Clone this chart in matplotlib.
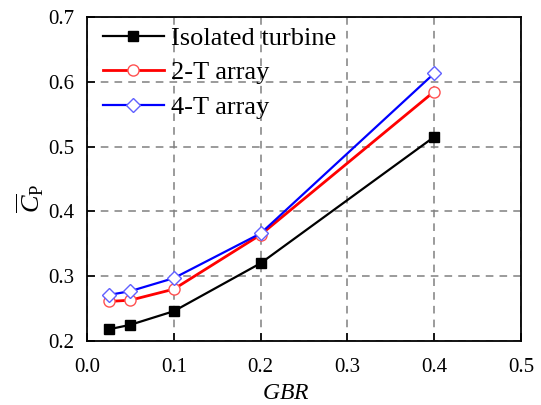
import numpy as np
import matplotlib.pyplot as plt

plt.rcParams['font.family'] = ['Liberation Serif', 'DejaVu Serif']
plt.rcParams['mathtext.fontset'] = 'custom'
plt.rcParams['mathtext.rm'] = 'Liberation Serif'
plt.rcParams['mathtext.it'] = 'Liberation Serif:italic'

# data
gbr = [0.025, 0.05, 0.1, 0.2, 0.4]
cp_iso = [0.218, 0.225, 0.246, 0.320, 0.515]
cp_2t = [0.261, 0.263, 0.280, 0.364, 0.585]
cp_4t = [0.271, 0.277, 0.297, 0.366, 0.613]
labels = ['Isolated turbine', '2-T array', '4-T array']

fig = plt.figure(figsize=(5.41, 4.05), dpi=100)
ax = fig.add_axes([87 / 541, 1 - 341 / 405, (521 - 87) / 541, (341 - 17) / 405])

ax.plot(gbr, cp_iso, color='black', lw=1.6, marker='s', ms=7,
        mfc='black', mec='black', label=labels[0])
ax.plot(gbr, cp_2t, color='red', lw=2, marker='o', ms=8,
        mfc='white', mec='#ff5050', mew=1, label=labels[1])
ax.plot(gbr, cp_4t, color='blue', lw=1.6, marker='D', ms=7,
        mfc='white', mec='#6060ff', mew=1, label=labels[2])

ax.set_xlim(0, 0.5)
ax.set_ylim(0.2, 0.7)
ax.set_xticks(np.arange(0, 0.51, 0.1))
ax.set_yticks(np.arange(0.2, 0.71, 0.1))
ax.set_xticklabels(['0.0', '0.1', '0.2', '0.3', '0.4', '0.5'])
ax.set_yticklabels(['0.2', '0.3', '0.4', '0.5', '0.6', '0.7'])
ax.tick_params(direction='in', length=6, width=1.2, labelsize=15)
ax.tick_params(axis='x', pad=12)
ax.tick_params(axis='y', pad=9)
ax.grid(True, color='gray', ls=(0, (5, 4)), lw=1.1)
for s in ax.spines.values():
    s.set_linewidth(1.3)

ax.set_xlabel('$\\it{GBR}$', fontsize=17)
ax.xaxis.set_label_coords(0.458, -0.13)
ax.set_ylabel('$\\overline{C}_{\\mathrm{P}}$', fontsize=19)
ax.yaxis.set_label_coords(-0.095, 0.44)

ax.legend(loc='upper left', frameon=False, fontsize=19, handlelength=2.3,
          handletextpad=0.3, borderaxespad=0.2, labelspacing=0.42,
          bbox_to_anchor=(0.0, 1.02))

fig.savefig('out.png', dpi=100)
